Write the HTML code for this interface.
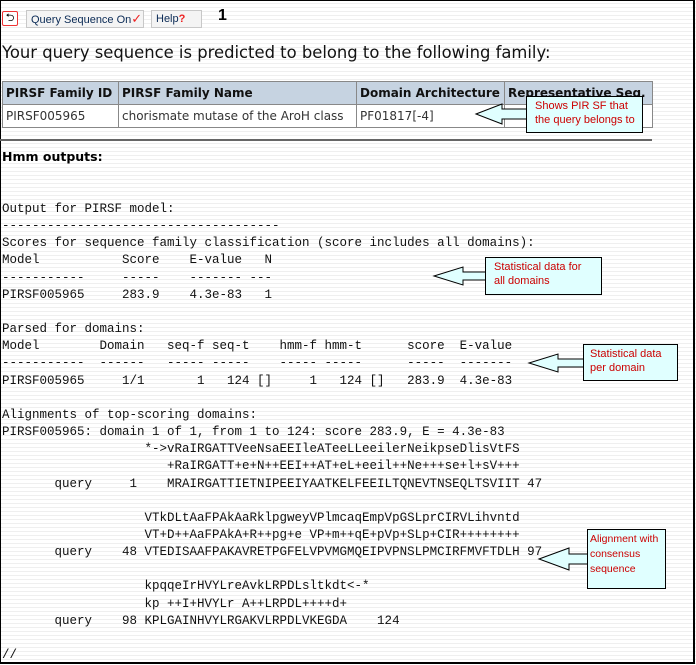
<!DOCTYPE html>
<html><head><meta charset="utf-8"><style>
html,body{margin:0;padding:0}
body{width:696px;height:665px;position:relative;overflow:hidden;background:#fff repeating-linear-gradient(to bottom,#fff 0,#fff 3px,#efefef 3px,#efefef 4px);font-family:"Liberation Sans",sans-serif}
.frame{position:absolute;left:0;top:0;width:692px;height:661px;border-left:1px solid #000;border-top:1px solid #000;border-right:2px solid #000;border-bottom:2px solid #000}
.btn{position:absolute;top:10px;height:16px;border:1px solid #c8c8c8;background:#f4f4f4;font-size:11px;line-height:16px;color:#0a2a55;padding:0 4px;white-space:nowrap}
pre{position:absolute;left:2px;margin:0;font-family:"Liberation Mono",monospace;font-size:12.5px;line-height:17.15px;color:#111}
table{position:absolute;left:2px;top:81px;width:650px;table-layout:fixed;border-collapse:collapse;font-family:"DejaVu Sans","Liberation Sans",sans-serif}
td,th{border:1px solid #888;height:22px;padding:0 3px;font-size:12px;text-align:left;white-space:nowrap;overflow:hidden}
th{background:#c6d3e1;font-weight:bold;color:#111}
td{background:#fff;color:#333}
.call{position:absolute;background:#e0ffff;border:1px solid #000;color:#cc0000;font-size:11px;line-height:14px;padding:2px 0 0 8px;box-sizing:border-box;white-space:nowrap}
</style></head><body>
<div class="frame"></div>
<div style="position:absolute;left:2px;top:11px;width:14px;height:13px;border:1px solid #e33;border-radius:2px;background:#fff;font-size:11px;line-height:12px;text-align:center;color:#000">&#x2B8C;</div>
<div class="btn" style="left:26px;width:108px">Query Sequence On<span style="color:#e22;font-size:13px">✓</span></div>
<div class="btn" style="left:151px;width:41px">Help<span style="color:#e22;font-weight:bold">?</span></div>
<div style="position:absolute;left:218px;top:7px;font-size:16px;font-weight:bold">1</div>
<div style="position:absolute;left:2px;top:43px;font-size:16.4px;font-family:'DejaVu Sans','Liberation Sans',sans-serif;color:#111">Your query sequence is predicted to belong to the following family:</div>
<table>
<colgroup><col style="width:116px"><col style="width:238px"><col style="width:148px"><col style="width:148px"></colgroup>
<tr><th>PIRSF Family ID</th><th>PIRSF Family Name</th><th>Domain Architecture</th><th>Representative Seq.</th></tr>
<tr><td>PIRSF005965</td><td>chorismate mutase of the AroH class</td><td>PF01817[-4]</td><td></td></tr>
</table>
<div style="position:absolute;left:0;top:139px;width:652px;height:2px;background:#666"></div>
<div style="position:absolute;left:2px;top:149px;font-size:12.5px;font-weight:bold;font-family:'DejaVu Sans','Liberation Sans',sans-serif">Hmm outputs:</div>
<pre style="top:201px">Output for PIRSF model:
-------------------------------------
Scores for sequence family classification (score includes all domains):
Model           Score    E-value   N
-----------     -----    ------- ---
PIRSF005965     283.9    4.3e-83   1

Parsed for domains:
Model        Domain   seq-f seq-t    hmm-f hmm-t      score  E-value
-----------  ------   ----- -----    ----- -----      -----  -------
PIRSF005965     1/1       1   124 []     1   124 []   283.9  4.3e-83

Alignments of top-scoring domains:
PIRSF005965: domain 1 of 1, from 1 to 124: score 283.9, E = 4.3e-83
                   *-&gt;vRaIRGATTVeeNsaEEIleATeeLLeeilerNeikpseDlisVtFS
                      +RaIRGATT+e+N++EEI++AT+eL+eeil++Ne+++se+l+sV+++
       query     1    MRAIRGATTIETNIPEEIYAATKELFEEILTQNEVTNSEQLTSVIIT 47

                   VTkDLtAaFPAkAaRklpgweyVPlmcaqEmpVpGSLprCIRVLihvntd
                   VT+D++AaFPAkA+R++pg+e VP+m++qE+pVp+SLp+CIR++++++++
       query    48 VTEDISAAFPAKAVRETPGFELVPVMGMQEIPVPNSLPMCIRFMVFTDLH 97

                   kpqqeIrHVYLreAvkLRPDLsltkdt&lt;-*
                   kp ++I+HVYLr A++LRPDL++++d+
       query    98 KPLGAINHVYLRGAKVLRPDLVKEGDA    124

//</pre>
<svg style="position:absolute;left:0;top:0" width="696" height="665">
<g fill="#e0ffff" stroke="#000" stroke-width="1">
<polygon points="476,114 502,104 502,109 528,109 528,119 502,119 502,124"/>
<polygon points="434,276 463,267 463,272 487,272 487,280 463,280 463,285"/>
<polygon points="529,363 558,354 558,359 585,359 585,367 558,367 558,372"/>
<polygon points="539,559 569,548 569,554 589,554 589,564 569,564 569,570"/>
</g>
</svg>
<div class="call" style="left:526px;top:96px;width:117px;height:37px">Shows PIR SF that<br>the query belongs to</div>
<div class="call" style="left:485px;top:257px;width:117px;height:38px">Statistical data for<br>all domains</div>
<div class="call" style="left:583px;top:344px;width:95px;height:37px;padding-left:6px">Statistical data<br>per domain</div>
<div class="call" style="left:587px;top:529px;width:79px;height:60px;padding-left:2px;line-height:15px;font-size:10.5px">Alignment with<br>consensus<br>sequence</div>
</body></html>
